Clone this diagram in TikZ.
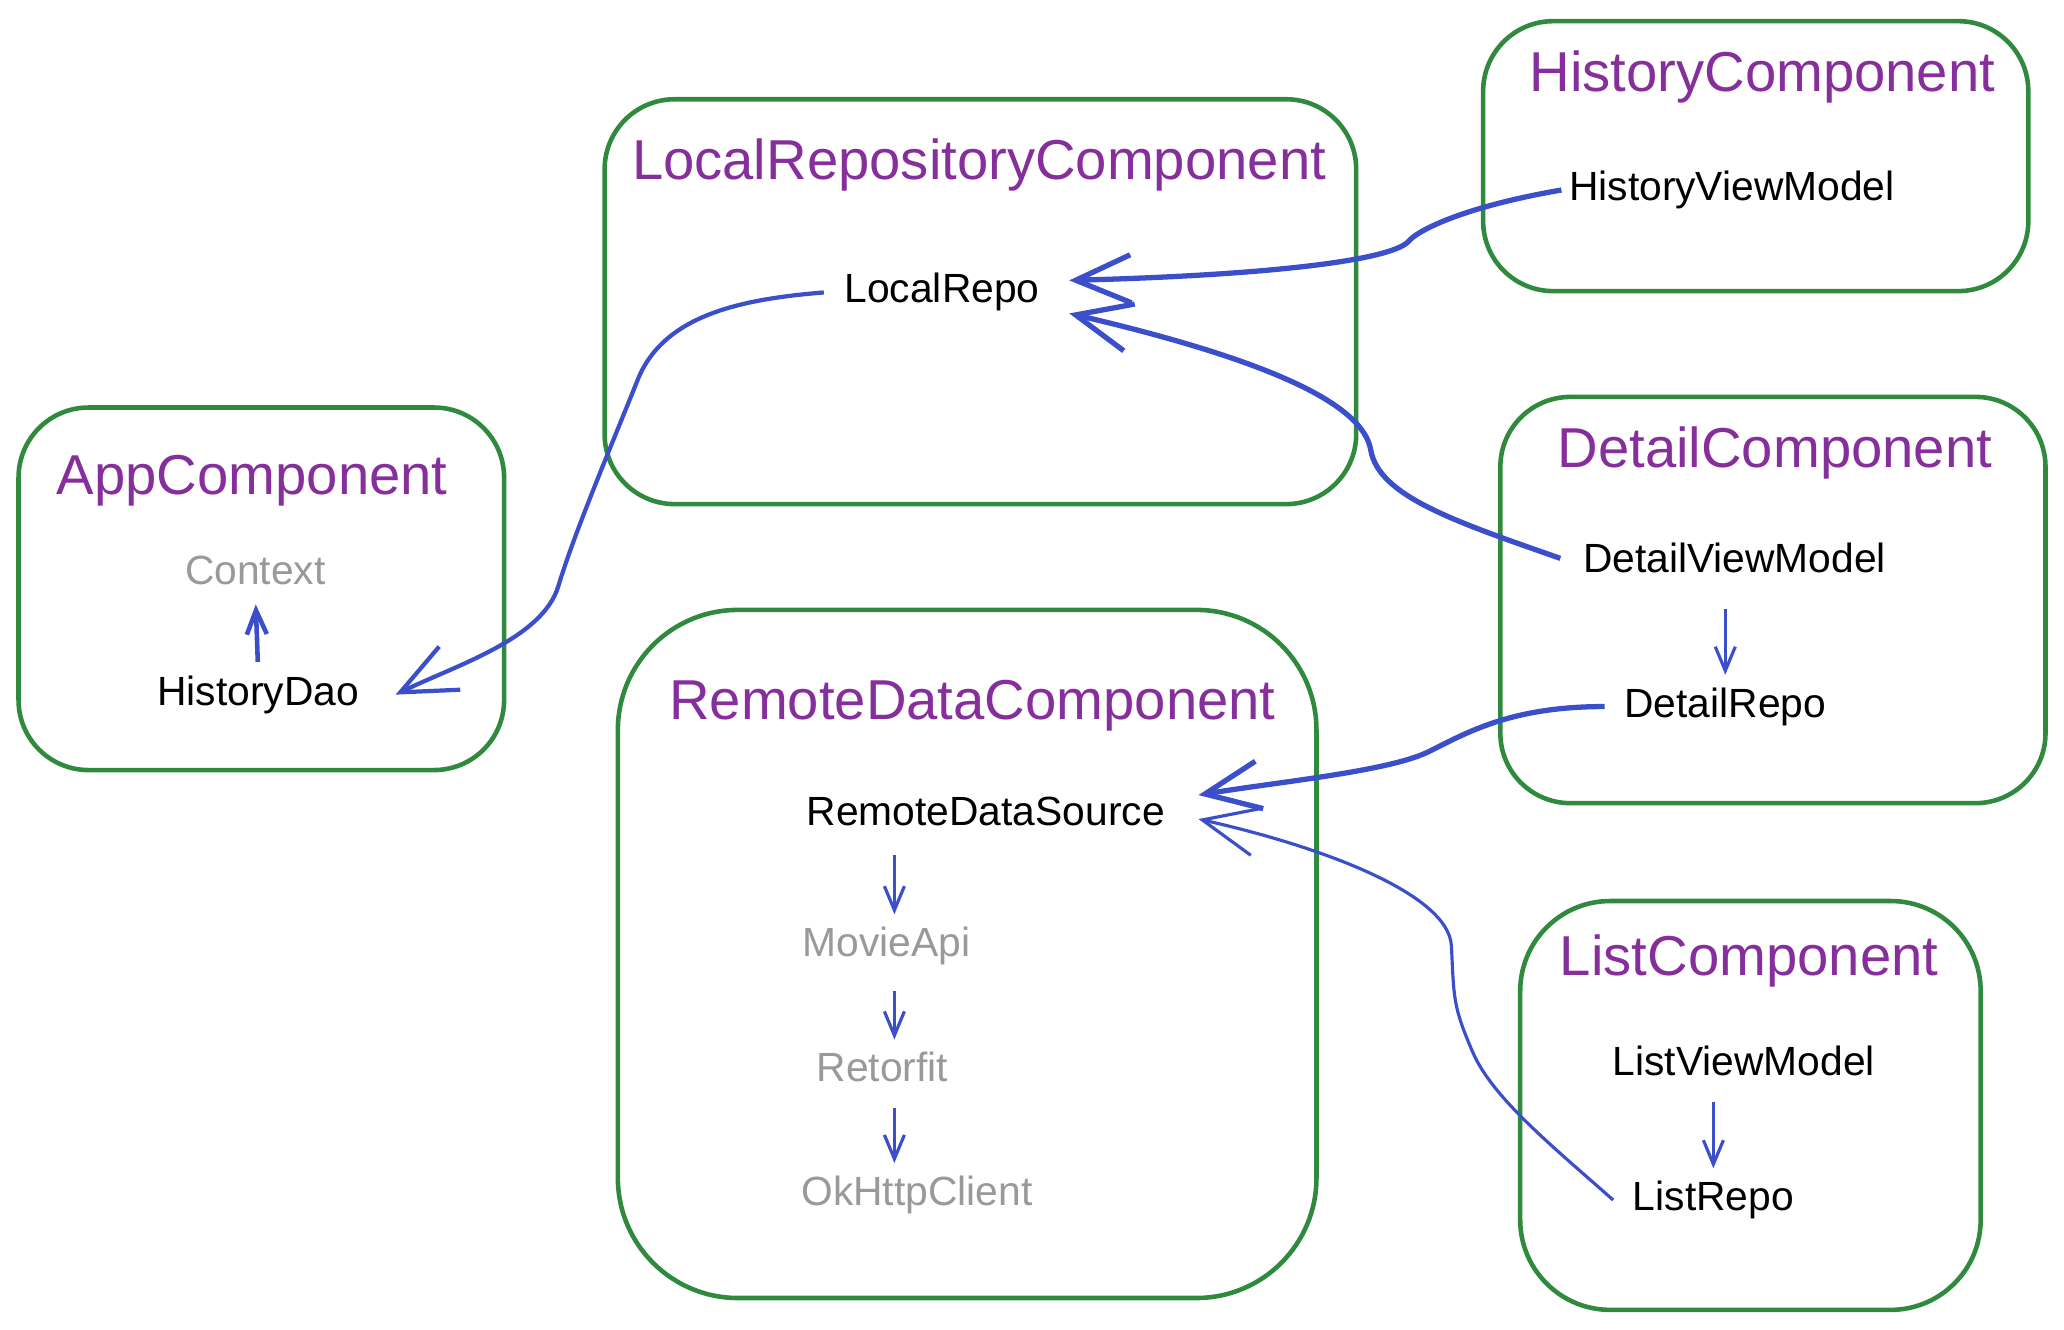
\documentclass[tikz,border=0pt]{standalone}
\usepackage{fontspec}
\setmainfont{Liberation Sans}
\usepackage{tikz}
\usetikzlibrary{arrows.meta, positioning}
\definecolor{compgreen}{HTML}{2F8A3E}
\definecolor{compviolet}{HTML}{862E9C}
\definecolor{linkblue}{HTML}{3B4FCB}
\definecolor{depgray}{HTML}{999999}

\begin{document}
\begin{tikzpicture}[
  x=0.01323cm, y=-0.01323cm,
  comp/.style={rectangle, rounded corners=0.7cm, draw=compgreen, line width=1.3pt},
  title/.style={text=compviolet, font=\fontsize{16}{19}\selectfont},
  dep/.style={font=\fontsize{11.6}{14}\selectfont, inner sep=2pt},
  ext/.style={dep, text=depgray},
  wire/.style={draw=linkblue, line width=1.5pt, -{Straight Barb[length=0.55cm, width=0.48cm]}},
  hop/.style={draw=linkblue, line width=0.9pt, shorten <=0.18cm, shorten >=0.05cm,
    -{Straight Barb[length=0.24cm, width=0.2cm]}}
]
  \useasboundingbox (0,0) rectangle (1560,1004.5);

  \node[comp, minimum width=4.855cm, minimum height=3.625cm] (app) at (197.5,445) {};
  \node[comp, minimum width=7.515cm, minimum height=4.048cm] (local) at (741,228) {};
  \node[comp, minimum width=5.451cm, minimum height=2.699cm] (history) at (1327,118) {};
  \node[comp, minimum width=5.451cm, minimum height=4.062cm] (detail) at (1340,453.5) {};
  \node[comp, rounded corners=1.2cm, minimum width=6.985cm, minimum height=6.88cm] (remote) at (731,721) {};
  \node[comp, rounded corners=0.9cm, minimum width=4.604cm, minimum height=4.088cm] (list) at (1323,835.5) {};

  \node[title] (appt) at (190.6,363) {AppComponent};
  \node[title] (localt) at (740,125) {LocalRepositoryComponent};
  \node[title] (historyt) at (1332,58) {HistoryComponent};
  \node[title] (detailt) at (1341.5,342) {DetailComponent};
  \node[title] (remotet) at (735,533) {RemoteDataComponent};
  \node[title] (listt) at (1322,726) {ListComponent};

  \node[ext] (ctx) at (193,431) {Context};
  \node[dep] (hdao) at (195,525) {HistoryDao};
  \node[dep] (lrepo) at (712,221) {LocalRepo};
  \node[dep] (hvm) at (1309,143.6) {HistoryViewModel};
  \node[dep] (dvm) at (1311,422) {DetailViewModel};
  \node[dep] (drepo) at (1304,534) {DetailRepo};
  \node[dep] (rds) at (745,613) {RemoteDataSource};
  \node[ext] (api) at (670,715) {MovieApi};
  \node[ext] (rtf) at (667,806.6) {Retorfit};
  \node[ext] (okc) at (693,903) {OkHttpClient};
  \node[dep] (lvm) at (1318,802) {ListViewModel};
  \node[dep] (lrp) at (1295,907) {ListRepo};

  \coordinate (spine) at (676,0);
  \draw[hop, line width=1.3pt, shorten <=0.06cm, shorten >=0.12cm] (hdao.north) -- (ctx.south);
  \draw[hop, shorten <=0.22cm] (rds.south -| spine) -- (api.north -| spine);
  \draw[hop] (api.south -| spine) -- (rtf.north -| spine);
  \draw[hop] (rtf.south -| spine) -- (okc.north -| spine);
  \draw[hop, shorten <=0.28cm] (drepo.north |- dvm.south) -- (drepo.north);
  \draw[hop] (lrp.north |- lvm.south) -- (lrp.north);

  \draw[wire] (hvm.west) .. controls +(-70,12) and +(8,-10) .. (1064,183)
    .. controls +(-15,14) and +(150,-4) .. ([xshift=0.22cm, yshift=0.12cm]lrepo.east);
  \draw[wire] ([xshift=-0.15cm]dvm.west) .. controls +(-80,-28) and +(6,35) .. (1036,340)
    .. controls +(-6,-35) and +(150,35) .. ([xshift=0.22cm, yshift=-0.21cm]lrepo.east);
  \draw[wire, line width=1.2pt] ([xshift=-0.13cm]lrepo.west) .. controls +(-60,5) and +(20,-50) .. (482,287)
    .. controls +(-20,50) and +(12,-40) .. (422,443)
    .. controls +(-12,40) and +(45,-22) .. ([xshift=0.29cm]hdao.east);
  \draw[wire] ([xshift=-0.12cm]drepo.west) .. controls +(-70,0) and +(30,-15) .. (1080,568)
    .. controls +(-30,15) and +(60,-10) .. ([xshift=0.26cm, yshift=0.16cm]rds.east);
  \draw[wire, line width=0.9pt] ([xshift=-0.12cm]lrp.west) .. controls +(-45,-40) and +(15,35) .. (1113,795)
    .. controls +(-15,-35) and +(2,40) .. (1097,715)
    .. controls +(-2,-40) and +(90,20) .. ([xshift=0.26cm, yshift=-0.08cm]rds.east);
\end{tikzpicture}
\end{document}
